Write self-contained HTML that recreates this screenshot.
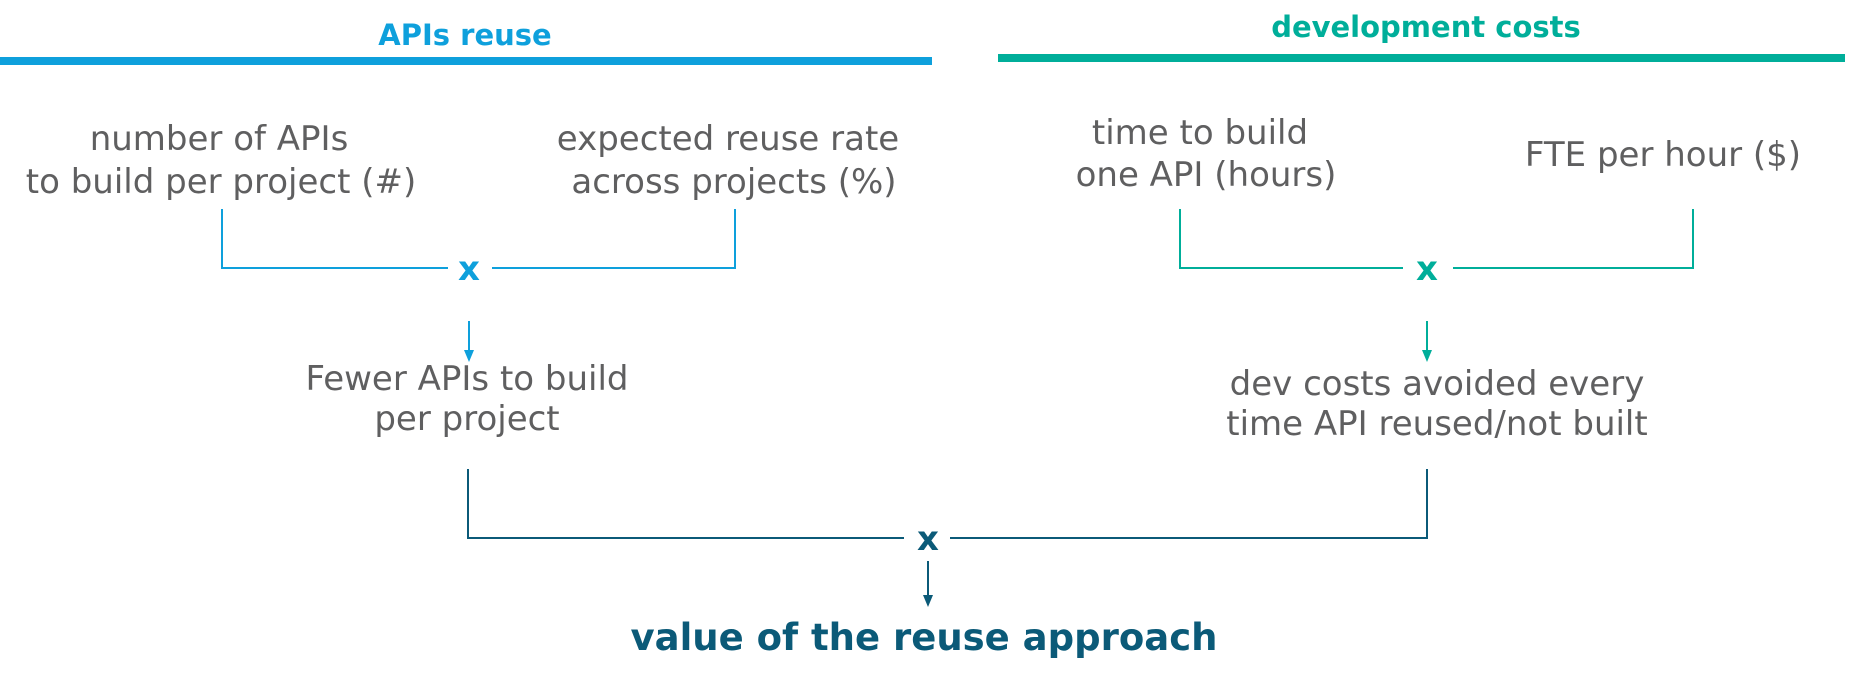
<!DOCTYPE html>
<html><head><meta charset="utf-8"><style>
html,body{margin:0;padding:0;background:#fff;}
svg{display:block;}
text{font-family:"DejaVu Sans","Liberation Sans",sans-serif;}
.g{fill:#5f5f60;font-size:34px;}
</style></head><body>
<svg width="1849" height="681" viewBox="0 0 1849 681" xmlns="http://www.w3.org/2000/svg">
<rect x="0" y="57" width="932" height="8" fill="#0ea0dc"/>
<rect x="998" y="54" width="847" height="8" fill="#00ae9a"/>
<text x="465" y="45" text-anchor="middle" font-weight="bold" font-size="29" fill="#0ea0dc">APIs reuse</text>
<text x="1426" y="37" text-anchor="middle" font-weight="bold" font-size="29" fill="#00ae9a">development costs</text>

<text class="g" x="219" y="150" text-anchor="middle">number of APIs</text>
<text class="g" x="221" y="193" text-anchor="middle">to build per project (#)</text>
<text class="g" x="728" y="150" text-anchor="middle">expected reuse rate</text>
<text class="g" x="734" y="193" text-anchor="middle">across projects (%)</text>
<text class="g" x="1200" y="144" text-anchor="middle">time to build</text>
<text class="g" x="1206" y="186" text-anchor="middle">one API (hours)</text>
<text class="g" x="1663" y="166" text-anchor="middle">FTE per hour ($)</text>

<path d="M222,209 V268 H448 M492,268 H735 V209" fill="none" stroke="#0ea0dc" stroke-width="2"/>
<text x="469" y="280" text-anchor="middle" font-weight="bold" font-size="34" fill="#0ea0dc">x</text>
<line x1="469" y1="321" x2="469" y2="352" stroke="#0ea0dc" stroke-width="2"/>
<polygon points="464,350 474,350 469,362" fill="#0ea0dc"/>

<path d="M1180,209 V268 H1403 M1453,268 H1693 V209" fill="none" stroke="#00ae9a" stroke-width="2"/>
<text x="1427" y="280" text-anchor="middle" font-weight="bold" font-size="34" fill="#00ae9a">x</text>
<line x1="1427" y1="321" x2="1427" y2="352" stroke="#00ae9a" stroke-width="2"/>
<polygon points="1422,350 1432,350 1427,362" fill="#00ae9a"/>

<text class="g" x="467" y="390" text-anchor="middle">Fewer APIs to build</text>
<text class="g" x="467" y="430" text-anchor="middle">per project</text>
<text class="g" x="1437" y="395" text-anchor="middle">dev costs avoided every</text>
<text class="g" x="1437" y="435" text-anchor="middle">time API reused/not built</text>

<path d="M468,469 V538 H904 M950,538 H1427 V469" fill="none" stroke="#0b5a78" stroke-width="2"/>
<text x="928" y="550" text-anchor="middle" font-weight="bold" font-size="34" fill="#0b5a78">x</text>
<line x1="928" y1="561" x2="928" y2="597" stroke="#0b5a78" stroke-width="2"/>
<polygon points="923,595 933,595 928,607" fill="#0b5a78"/>

<text x="924" y="650" text-anchor="middle" font-weight="bold" font-size="37" fill="#0b5a78">value of the reuse approach</text>
</svg>
</body></html>
